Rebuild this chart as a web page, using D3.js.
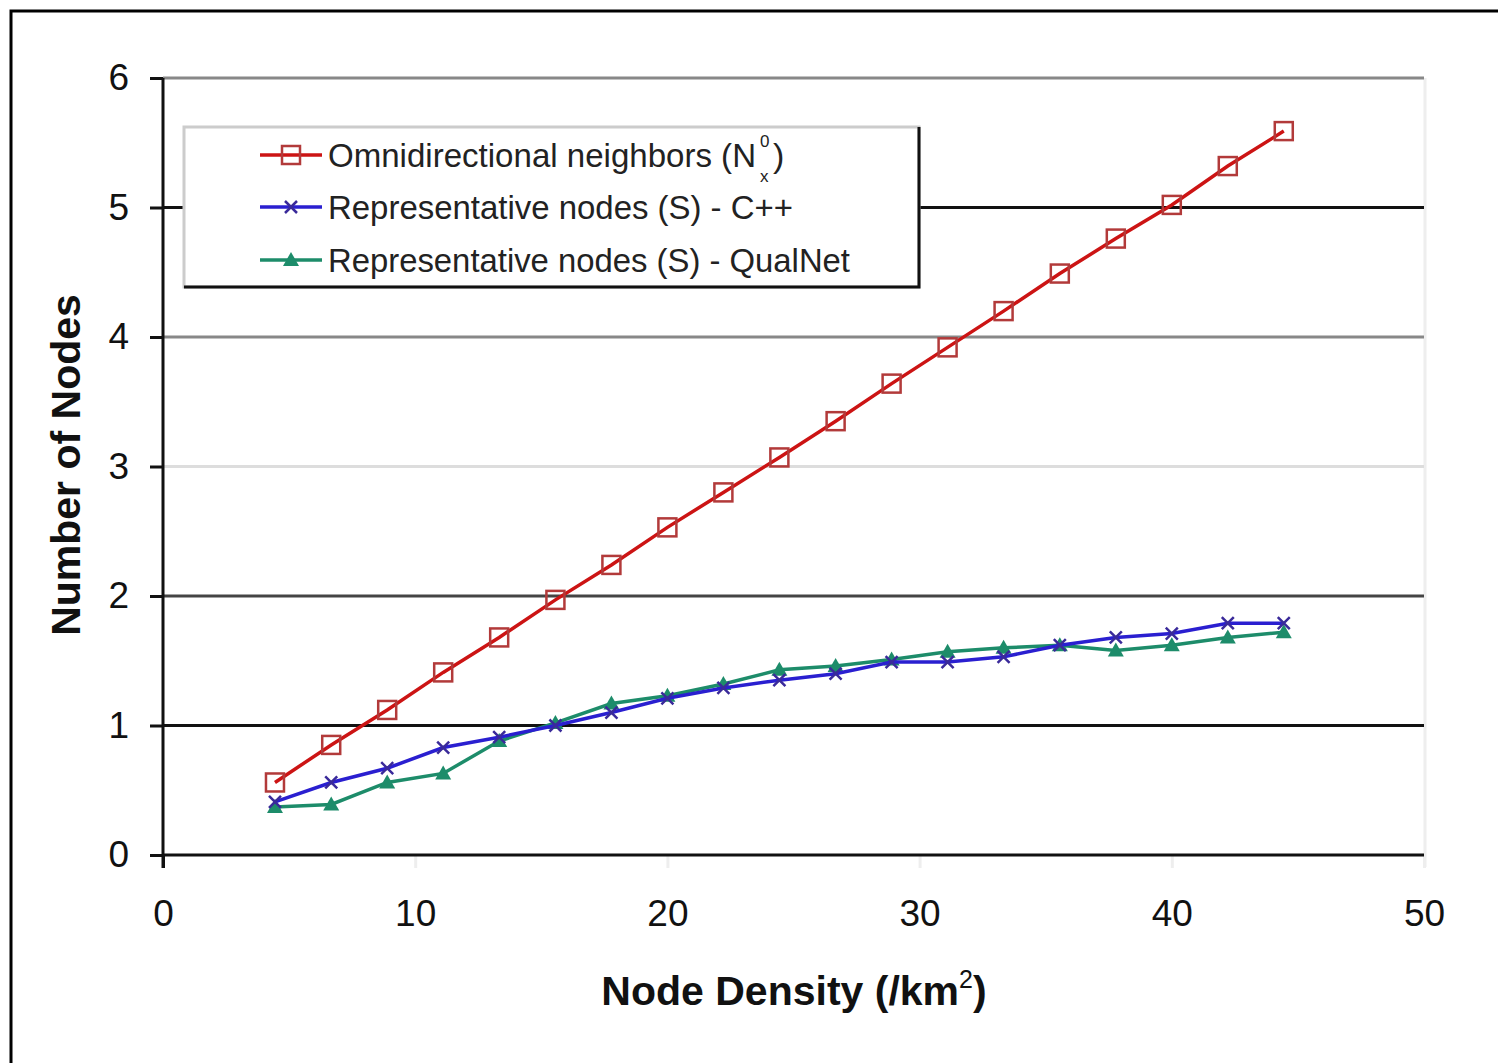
<!DOCTYPE html>
<html>
<head>
<meta charset="utf-8">
<script src="https://d3js.org/d3.v7.min.js"></script>
<style>
  body { margin: 0; background: #fff; }
  svg { display: block; font-family: "Liberation Sans", Arial, sans-serif; }
</style>
</head>
<body>
<script>
// data
var density = [4.44, 6.67, 8.89, 11.11, 13.33, 15.56, 17.78, 20, 22.22, 24.44, 26.67, 28.89, 31.11, 33.33, 35.56, 37.78, 40, 42.22, 44.44];
var omniNeighbors = [0.56, 0.85, 1.12, 1.41, 1.68, 1.97, 2.24, 2.53, 2.80, 3.07, 3.35, 3.64, 3.92, 4.20, 4.49, 4.76, 5.02, 5.32, 5.59];
var repCpp = [0.41, 0.56, 0.67, 0.83, 0.91, 1.00, 1.10, 1.21, 1.29, 1.35, 1.40, 1.49, 1.49, 1.53, 1.62, 1.68, 1.71, 1.79, 1.79];
var repQualNet = [0.37, 0.39, 0.56, 0.63, 0.88, 1.02, 1.17, 1.23, 1.32, 1.43, 1.46, 1.51, 1.57, 1.60, 1.62, 1.58, 1.62, 1.68, 1.72];
var seriesNames = ["Omnidirectional neighbors (N", "Representative nodes (S) - C++", "Representative nodes (S) - QualNet"];
var xTicks = [0, 10, 20, 30, 40, 50];
var yTicks = [0, 1, 2, 3, 4, 5, 6];

var w = 1498, h = 1063;
var plotLeft = 163, plotRight = 1424, plotTop = 78, plotBottom = 855;

// gridline shades as they come out in the scan
var gridColor = {1: "#111", 2: "#444", 3: "#ddd", 4: "#888", 5: "#111", 6: "#888"};

var svg = d3.select("body").append("svg")
  .attr("width", w)
  .attr("height", h);

// outer frame
svg.append("rect")
  .attr("x", 11).attr("y", 11)
  .attr("width", 1600).attr("height", 1200)
  .attr("fill", "none")
  .attr("stroke", "#000")
  .attr("stroke-width", 3);

var x = d3.scaleLinear().domain([0, 50]).range([plotLeft, plotRight]);
var y = d3.scaleLinear().domain([0, 6]).range([plotBottom, plotTop]);

// right edge of plot area (faint)
svg.append("line")
  .attr("x1", x(50) + 1).attr("x2", x(50) + 1)
  .attr("y1", y(6)).attr("y2", y(0) + 12)
  .attr("stroke", "#eee").attr("stroke-width", 3);

// gridlines
svg.append("g").selectAll("line")
  .data(yTicks.filter(function (d) { return d > 0; }))
  .enter().append("line")
  .attr("x1", x(0)).attr("x2", x(50))
  .attr("y1", function (d) { return y(d); })
  .attr("y2", function (d) { return y(d); })
  .attr("stroke", function (d) { return gridColor[d]; })
  .attr("stroke-width", 3);

// axes
var yAxis = d3.axisLeft(y).tickValues(yTicks).tickSize(13).tickPadding(21).tickFormat(d3.format("d"));
var xAxis = d3.axisBottom(x).tickValues(xTicks).tickSize(13).tickPadding(32).tickFormat(d3.format("d"));

var gy = svg.append("g")
  .attr("transform", "translate(" + plotLeft + ",0)")
  .call(yAxis);
var gx = svg.append("g")
  .attr("transform", "translate(0," + plotBottom + ")")
  .call(xAxis);

[gx, gy].forEach(function (g) {
  g.select(".domain").remove();
  g.selectAll("line").attr("stroke", "#111").attr("stroke-width", 3);
  g.selectAll("text").attr("fill", "#111").style("font-size", "37px");
});
gx.selectAll(".tick line").attr("stroke", function (d) { return d === 0 ? "#111" : "#eee"; });

svg.append("line")
  .attr("x1", plotLeft).attr("x2", plotLeft)
  .attr("y1", plotTop).attr("y2", plotBottom + 13)
  .attr("stroke", "#111").attr("stroke-width", 3);
svg.append("line")
  .attr("x1", plotLeft).attr("x2", plotRight)
  .attr("y1", plotBottom).attr("y2", plotBottom)
  .attr("stroke", "#111").attr("stroke-width", 3);

// axis titles
var xt = svg.append("text")
  .attr("x", 794).attr("y", 1005)
  .attr("text-anchor", "middle")
  .style("font-size", "41px").style("font-weight", "bold").attr("fill", "#111");
xt.append("tspan").text("Node Density (/km");
xt.append("tspan").attr("dy", -17).style("font-size", "25px").style("font-weight", "normal").text("2");
xt.append("tspan").attr("dy", 17).text(")");

svg.append("text")
  .attr("transform", "translate(80,465) rotate(-90)")
  .attr("text-anchor", "middle")
  .style("font-size", "41px").style("font-weight", "bold").attr("fill", "#111")
  .text("Number of Nodes");

// series
var series = [
  {name: seriesNames[0], values: omniNeighbors, color: "#cc1414", mark: "square"},
  {name: seriesNames[1], values: repCpp, color: "#2a1fd0", mark: "cross"},
  {name: seriesNames[2], values: repQualNet, color: "#1d8c6a", mark: "triangle"}
];

var line = d3.line()
  .x(function (d) { return x(d[0]); })
  .y(function (d) { return y(d[1]); });

function drawMark(g, kind, cx, cy) {
  if (kind === "square") {
    g.append("rect")
      .attr("x", cx - 9).attr("y", cy - 9)
      .attr("width", 18).attr("height", 18)
      .attr("fill", "none").attr("stroke", "#b23a3a").attr("stroke-width", 2.5);
  } else if (kind === "cross") {
    g.append("path")
      .attr("d", "M" + (cx - 6) + "," + (cy - 6) + "L" + (cx + 6) + "," + (cy + 6) +
                 "M" + (cx - 6) + "," + (cy + 6) + "L" + (cx + 6) + "," + (cy - 6))
      .attr("stroke", "#3a2a9a").attr("stroke-width", 2.5).attr("fill", "none");
  } else {
    g.append("path")
      .attr("d", "M" + cx + "," + (cy - 8) + "L" + (cx + 8) + "," + (cy + 6) + "L" + (cx - 8) + "," + (cy + 6) + "Z")
      .attr("fill", "#1d8c6a");
  }
}

series.slice().reverse().forEach(function (s) {
  var pts = density.map(function (d, i) { return [d, s.values[i]]; });
  svg.append("path")
    .datum(pts)
    .attr("d", line)
    .attr("fill", "none")
    .attr("stroke", s.color)
    .attr("stroke-width", 3.5);
  var gm = svg.append("g");
  pts.forEach(function (p) { drawMark(gm, s.mark, x(p[0]), y(p[1])); });
});

// legend
var lg = svg.append("g");
lg.append("rect")
  .attr("x", 184).attr("y", 127)
  .attr("width", 735).attr("height", 160)
  .attr("fill", "#fff").attr("stroke", "#ccc").attr("stroke-width", 3);
lg.append("path")
  .attr("d", "M919,127L919,287L184,287")
  .attr("fill", "none").attr("stroke", "#111").attr("stroke-width", 3);

var legendY = [155, 207, 260];
var textLen = [428, 465, 522];
series.forEach(function (s, i) {
  var ly = legendY[i];
  lg.append("line")
    .attr("x1", 260).attr("x2", 322)
    .attr("y1", ly).attr("y2", ly)
    .attr("stroke", s.color).attr("stroke-width", 3.5);
  drawMark(lg, s.mark, 291, ly);
  lg.append("text")
    .attr("x", 328).attr("y", ly + 12)
    .attr("textLength", textLen[i])
    .attr("lengthAdjust", "spacingAndGlyphs")
    .style("font-size", "34px").attr("fill", "#222")
    .text(s.name);
});
// superscript / subscript on the first entry
lg.append("text").attr("x", 760).attr("y", 147).style("font-size", "17px").attr("fill", "#222").text("0");
lg.append("text").attr("x", 760).attr("y", 182).style("font-size", "17px").attr("fill", "#222").text("x");
lg.append("text").attr("x", 773).attr("y", 167).style("font-size", "34px").attr("fill", "#222").text(")");
</script>
</body>
</html>
